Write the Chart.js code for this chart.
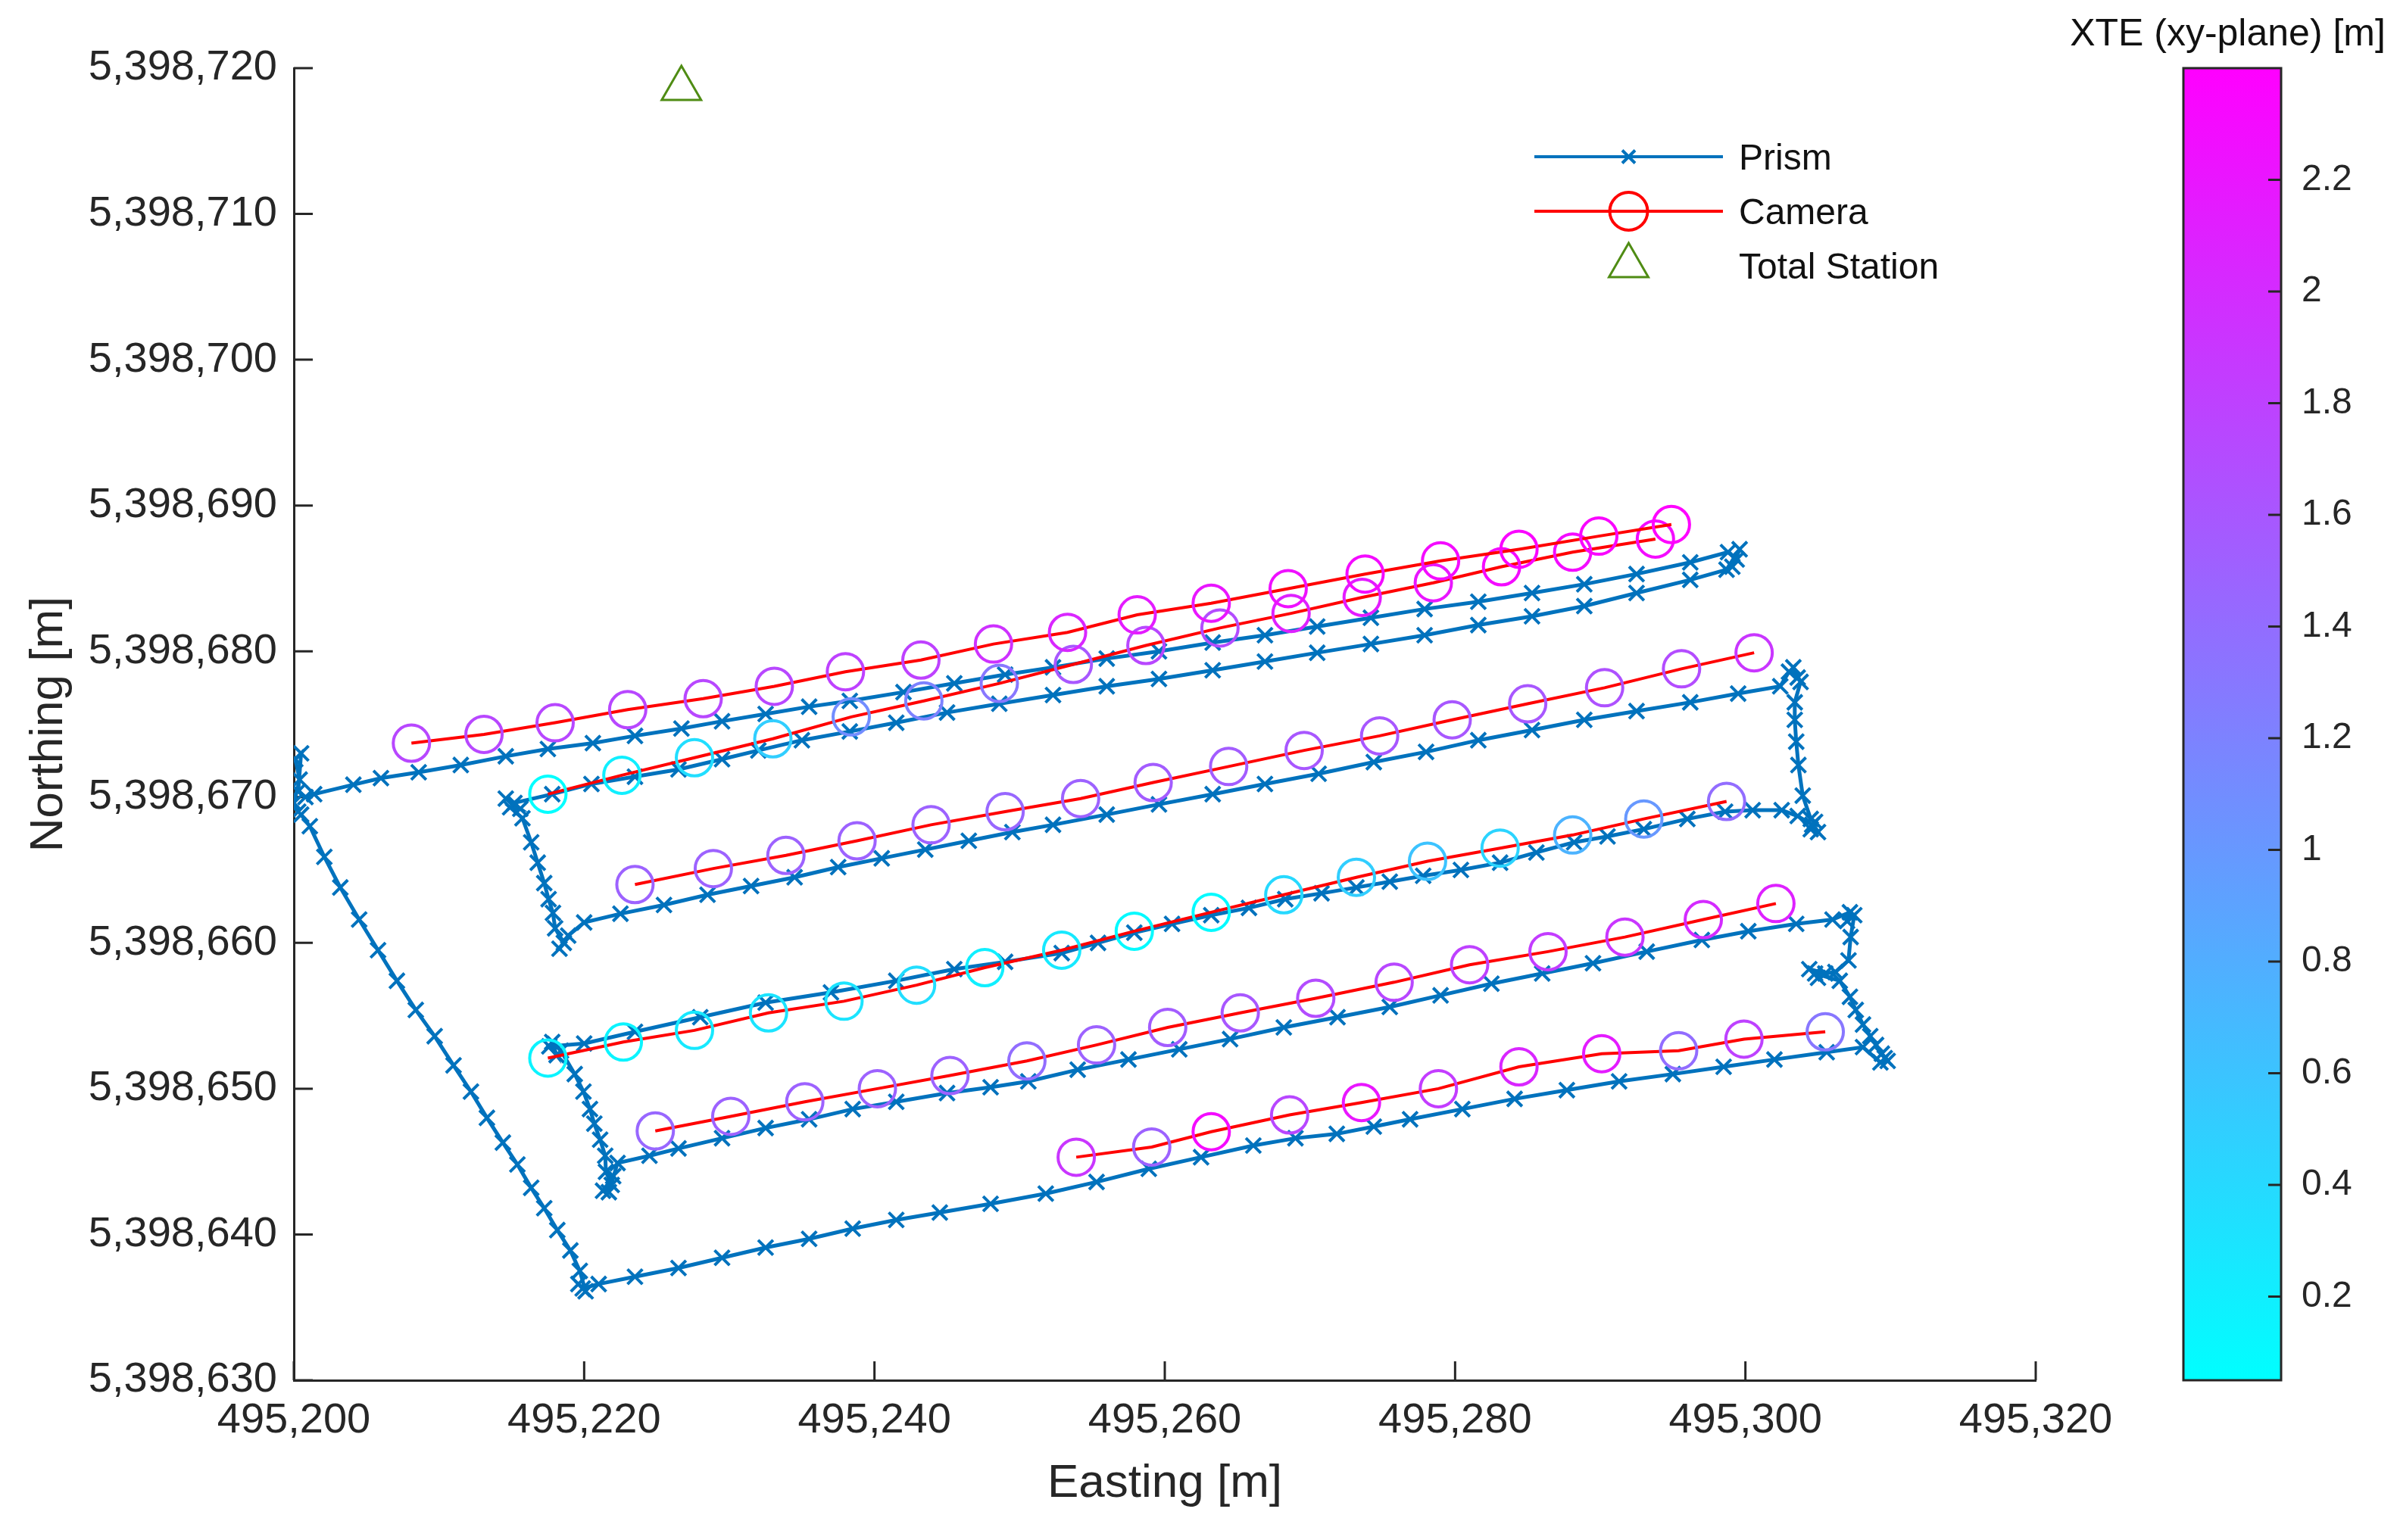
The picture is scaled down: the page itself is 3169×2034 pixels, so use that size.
<!DOCTYPE html>
<html>
<head>
<meta charset="utf-8">
<title>Prism and camera trajectories</title>
<script src="https://cdn.jsdelivr.net/npm/chart.js@4/dist/chart.umd.min.js"></script>
<style>
    html, body { margin: 0; padding: 0; background: #ffffff; overflow: hidden; }
    #wrap { width: 3169px; height: 2034px; }
</style>
</head>
<body>
<div id="wrap"><canvas id="trackChart" width="3169" height="2034"></canvas></div>
<script>
// axis ticks
const eastingTicks = [ 495200, 495220, 495240, 495260, 495280, 495300, 495320 ]
const northingTicks = [ 5398630, 5398640, 5398650, 5398660, 5398670, 5398680, 5398690, 5398700, 5398710, 5398720 ]
const xteTicks = [ 0.2, 0.4, 0.6, 0.8, 1, 1.2, 1.4, 1.6, 1.8, 2, 2.2 ]
const xteLimits = [ 0.05, 2.4 ]

// total station
const stationEasting = [ 495226.7 ]
const stationNorthing = [ 5398718.6 ]

// prism track (in driving order)
const prismEasting = [
    495200.3, 495200.0, 495200.4, 495200.1, 495200.5, 495200.3, 495200.8,
    495201.4, 495204.1, 495206.0, 495208.6, 495211.5, 495214.6, 495217.5, 495220.6, 495223.5, 495226.7,
    495229.5, 495232.5, 495235.5, 495238.3, 495242.0, 495245.5, 495249.0, 495252.3, 495256.0, 495259.6,
    495263.3, 495266.9, 495270.5, 495274.2, 495277.9, 495281.6, 495285.3, 495288.9, 495292.5, 495296.2,
    495298.8, 495299.4, 495299.1, 495299.6,
    495298.7, 495296.2, 495292.5, 495288.9, 495285.3, 495281.6, 495277.9, 495274.2, 495270.5, 495266.9,
    495263.3, 495259.6, 495256.0, 495252.3, 495248.6, 495245.0, 495241.5, 495238.3, 495235.0, 495232.0,
    495229.5, 495226.5, 495223.5, 495220.5, 495217.8,
    495215.2, 495214.6, 495215.6, 495214.9,
    495215.75, 495216.35, 495216.8, 495217.25, 495217.55, 495217.85,
    495218.0, 495218.6, 495218.3, 495218.9,
    495220.0, 495222.5, 495225.5, 495228.5, 495231.5, 495234.5, 495237.5, 495240.5, 495243.5, 495246.5,
    495249.5, 495252.3, 495256.0, 495259.6, 495263.3, 495266.9, 495270.6, 495274.4, 495278.0, 495281.6,
    495285.3, 495288.9, 495292.5, 495296.2, 495299.5, 495302.4,
    495303.0, 495303.6, 495303.3, 495303.8,
    495303.4, 495303.4, 495303.5, 495303.65, 495303.95, 495304.5,
    495304.8, 495304.5, 495305.0, 495304.6,
    495303.6, 495302.5, 495300.5, 495298.6, 495296.0, 495293.0, 495290.5, 495288.2, 495285.6, 495283.1,
    495280.4, 495277.8, 495275.5, 495273.2, 495270.8, 495268.3, 495265.8, 495263.2, 495260.5, 495257.9,
    495255.4, 495252.9, 495249.0, 495245.5, 495241.5, 495237.0, 495232.5, 495228.0, 495223.5, 495220.0,
    495217.6, 495218.1, 495217.8, 495218.4,
    495219.35, 495219.95, 495220.4, 495220.7, 495221.1, 495221.45,
    495221.5, 495221.9, 495221.3, 495222.0, 495221.7,
    495222.3, 495224.5, 495226.5, 495229.5, 495232.5, 495235.5, 495238.5, 495241.5, 495245.0, 495248.0,
    495250.6, 495254.0, 495257.5, 495261.0, 495264.5, 495268.2, 495271.9, 495275.5, 495279.0, 495282.5,
    495286.0, 495289.5, 495293.2, 495297.0, 495300.2, 495303.5, 495306.0,
    495307.2, 495307.0, 495307.5,
    495307.25, 495307.1, 495306.2, 495305.5, 495304.4, 495305.0, 495304.8, 495306.5, 495307.2, 495307.6,
    495308.1, 495308.6, 495309.0, 495309.6,
    495309.4, 495309.8, 495309.3,
    495308.1, 495305.6, 495302.0, 495298.5, 495295.0, 495291.3, 495287.7, 495284.1, 495280.5, 495276.9,
    495274.4, 495271.85, 495269.0, 495266.1, 495262.5, 495258.9, 495255.3, 495251.8, 495248.0, 495244.5,
    495241.5, 495238.5, 495235.5, 495232.5, 495229.5, 495226.5, 495223.5, 495221.0,
    495219.9, 495219.6, 495220.1,
    495219.7, 495219.05, 495218.15, 495217.25, 495216.35, 495215.4, 495214.4, 495213.3, 495212.2, 495211.0,
    495209.7, 495208.4, 495207.1, 495205.8, 495204.5, 495203.2, 495202.1, 495201.1, 495200.5
]
const prismNorthing = [
    5398669.0, 5398669.6, 5398671.2, 5398672.6, 5398673.0, 5398670.4, 5398670.0,
    5398670.2, 5398670.85, 5398671.3, 5398671.7, 5398672.2, 5398672.8, 5398673.3, 5398673.7, 5398674.2, 5398674.7,
    5398675.2, 5398675.7, 5398676.2, 5398676.6, 5398677.2, 5398677.8, 5398678.4, 5398678.9, 5398679.5, 5398680.0,
    5398680.6, 5398681.1, 5398681.7, 5398682.3, 5398682.9, 5398683.4, 5398684.0, 5398684.6, 5398685.3, 5398686.1,
    5398686.8, 5398686.3, 5398685.8, 5398687.0,
    5398685.6, 5398684.9, 5398684.0, 5398683.1, 5398682.4, 5398681.8, 5398681.1, 5398680.5, 5398679.9, 5398679.3,
    5398678.7, 5398678.1, 5398677.6, 5398677.0, 5398676.4, 5398675.8, 5398675.1, 5398674.5, 5398673.9, 5398673.2,
    5398672.6, 5398671.9, 5398671.4, 5398670.9, 5398670.2,
    5398669.6, 5398669.9, 5398669.2, 5398669.3,
    5398668.55, 5398666.9, 5398665.5, 5398664.1, 5398663.0, 5398662.05,
    5398661.0, 5398660.0, 5398659.6, 5398660.5,
    5398661.4, 5398662.0, 5398662.6, 5398663.3, 5398663.9, 5398664.5, 5398665.2, 5398665.8, 5398666.4, 5398667.0,
    5398667.6, 5398668.1, 5398668.8, 5398669.5, 5398670.2, 5398670.9, 5398671.6, 5398672.4, 5398673.1, 5398673.9,
    5398674.6, 5398675.3, 5398675.9, 5398676.5, 5398677.1, 5398677.6,
    5398678.6, 5398678.2, 5398678.9, 5398677.9,
    5398676.5, 5398675.3, 5398673.8, 5398672.2, 5398670.1, 5398668.5,
    5398668.3, 5398667.8, 5398667.6, 5398668.1,
    5398668.7, 5398669.1, 5398669.1, 5398669.0, 5398668.5, 5398667.8, 5398667.3, 5398666.9, 5398666.2, 5398665.5,
    5398665.0, 5398664.6, 5398664.2, 5398663.8, 5398663.4, 5398663.0, 5398662.4, 5398661.9, 5398661.3, 5398660.7,
    5398660.0, 5398659.3, 5398658.7, 5398658.2, 5398657.4, 5398656.6, 5398655.9, 5398654.9, 5398653.9, 5398653.1,
    5398652.9, 5398652.3, 5398653.2, 5398652.6,
    5398651.0, 5398649.8, 5398648.6, 5398647.6, 5398646.5, 5398645.4,
    5398644.3, 5398643.4, 5398643.0, 5398644.0, 5398642.9,
    5398644.9, 5398645.4, 5398645.9, 5398646.6, 5398647.3, 5398647.9, 5398648.6, 5398649.1, 5398649.7, 5398650.1,
    5398650.5, 5398651.3, 5398652.0, 5398652.7, 5398653.4, 5398654.2, 5398654.9, 5398655.6, 5398656.4, 5398657.2,
    5398657.9, 5398658.6, 5398659.4, 5398660.2, 5398660.8, 5398661.3, 5398661.6,
    5398662.1, 5398661.5, 5398661.9,
    5398660.4, 5398658.8, 5398658.0, 5398657.9, 5398658.2, 5398657.6, 5398657.9, 5398657.4, 5398656.3, 5398655.4,
    5398654.4, 5398653.6, 5398653.0, 5398652.1,
    5398652.4, 5398651.9, 5398651.8,
    5398652.85, 5398652.5, 5398652.0, 5398651.5, 5398651.0, 5398650.5, 5398649.9, 5398649.3, 5398648.6, 5398647.9,
    5398647.4, 5398646.9, 5398646.6, 5398646.1, 5398645.3, 5398644.5, 5398643.6, 5398642.8, 5398642.1, 5398641.5,
    5398641.0, 5398640.4, 5398639.7, 5398639.1, 5398638.4, 5398637.7, 5398637.1, 5398636.6,
    5398636.3, 5398636.6, 5398636.1,
    5398637.5, 5398638.9, 5398640.3, 5398641.8, 5398643.2, 5398644.8, 5398646.3, 5398648.0, 5398649.8, 5398651.6,
    5398653.6, 5398655.4, 5398657.4, 5398659.5, 5398661.6, 5398663.8, 5398665.9, 5398668.0, 5398668.8
]

// camera runs: easting, northing, XTE in the xy-plane
const camEastA = [ 495208.1, 495213.1, 495218.0, 495223.0, 495228.2, 495233.1, 495238.0, 495243.2, 495248.2, 495253.3, 495258.1, 495263.2, 495268.5, 495273.8, 495279.0, 495284.4, 495289.9, 495294.9 ]
const camNorthA = [ 5398673.7, 5398674.3, 5398675.1, 5398676.0, 5398676.75, 5398677.6, 5398678.6, 5398679.4, 5398680.5, 5398681.3, 5398682.5, 5398683.3, 5398684.3, 5398685.3, 5398686.2, 5398687.0, 5398687.9, 5398688.7 ]
const xteA = [ 1.75, 1.75, 1.75, 1.75, 1.75, 1.75, 1.8, 1.8, 1.95, 2.05, 2.15, 2.2, 2.25, 2.3, 2.3, 2.35, 2.35, 2.4 ]

const camEastB = [ 495217.5, 495222.6, 495227.6, 495233.0, 495238.4, 495243.4, 495248.6, 495253.7, 495258.7, 495263.8, 495268.7, 495273.6, 495278.5, 495283.2, 495288.1, 495293.8 ]
const camNorthB = [ 5398670.2, 5398671.5, 5398672.7, 5398674.0, 5398675.5, 5398676.6, 5398677.8, 5398679.1, 5398680.4, 5398681.6, 5398682.6, 5398683.7, 5398684.7, 5398685.8, 5398686.8, 5398687.7 ]
const xteB = [ 0.06, 0.2, 0.35, 0.5, 1.1, 1.2, 1.3, 1.6, 1.75, 1.7, 2.1, 2.15, 2.2, 2.3, 2.3, 2.3 ]

const camEastC = [ 495223.5, 495228.9, 495233.9, 495238.8, 495243.9, 495249.0, 495254.2, 495259.2, 495264.4, 495269.6, 495274.8, 495279.8, 495285.0, 495290.3, 495295.6, 495300.6 ]
const camNorthC = [ 5398664.0, 5398665.1, 5398666.0, 5398667.0, 5398668.1, 5398669.0, 5398669.9, 5398671.0, 5398672.1, 5398673.2, 5398674.2, 5398675.3, 5398676.4, 5398677.5, 5398678.8, 5398679.9 ]
const xteC = [ 1.5, 1.5, 1.5, 1.5, 1.5, 1.45, 1.5, 1.55, 1.55, 1.6, 1.6, 1.6, 1.6, 1.65, 1.7, 1.9 ]

const camEastD = [ 495217.5, 495222.7, 495227.6, 495232.7, 495237.9, 495242.9, 495247.6, 495252.9, 495257.9, 495263.2, 495268.2, 495273.2, 495278.1, 495283.1, 495288.1, 495293.0, 495298.7 ]
const camNorthD = [ 5398652.1, 5398653.2, 5398654.0, 5398655.2, 5398656.0, 5398657.1, 5398658.3, 5398659.5, 5398660.8, 5398662.1, 5398663.3, 5398664.5, 5398665.6, 5398666.5, 5398667.4, 5398668.5, 5398669.7 ]
const xteD = [ 0.15, 0.15, 0.25, 0.3, 0.3, 0.35, 0.2, 0.25, 0.1, 0.1, 0.4, 0.5, 0.6, 0.45, 0.75, 1.0, 1.4 ]

const camEastE = [ 495224.9, 495230.1, 495235.2, 495240.2, 495245.2, 495250.5, 495255.3, 495260.2, 495265.2, 495270.4, 495275.8, 495281.0, 495286.4, 495291.7, 495297.1, 495302.1 ]
const camNorthE = [ 5398647.1, 5398648.1, 5398649.1, 5398650.0, 5398650.9, 5398651.9, 5398653.0, 5398654.2, 5398655.2, 5398656.2, 5398657.3, 5398658.5, 5398659.4, 5398660.4, 5398661.6, 5398662.7 ]
const xteE = [ 1.45, 1.5, 1.5, 1.5, 1.5, 1.4, 1.5, 1.55, 1.6, 1.7, 1.75, 1.8, 1.85, 1.9, 2.0, 2.1 ]

const camEastF = [ 495253.9, 495259.1, 495263.2, 495268.6, 495273.55, 495278.85, 495284.4, 495290.1, 495295.4, 495299.9, 495305.5 ]
const camNorthF = [ 5398645.3, 5398646.0, 5398647.05, 5398648.2, 5398649.05, 5398650.0, 5398651.5, 5398652.4, 5398652.6, 5398653.4, 5398653.9 ]
const xteF = [ 1.9, 1.5, 2.3, 1.75, 2.2, 1.85, 2.05, 2.15, 1.4, 1.8, 1.3 ]

const cameraRuns = [
    [ camEastA, camNorthA, xteA ],
    [ camEastB, camNorthB, xteB ],
    [ camEastC, camNorthC, xteC ],
    [ camEastD, camNorthD, xteD ],
    [ camEastE, camNorthE, xteE ],
    [ camEastF, camNorthF, xteF ]
]

const fontFamily = '"Liberation Sans", Arial, Helvetica, sans-serif'
const axisColor = '#262626'
const prismColor = '#0072BD'
const cameraColor = '#FF0000'
const stationColor = '#4F8C14'

Chart.defaults.font.family = fontFamily
Chart.defaults.color = axisColor

function coolColor ( v ) {
    const t = Math.min( 1, Math.max( 0, ( v - xteLimits[ 0 ] ) / ( xteLimits[ 1 ] - xteLimits[ 0 ] ) ) )
    return `rgb(${ Math.round( 255 * t ) }, ${ Math.round( 255 * ( 1 - t ) ) }, 255)`
}

function toPoints ( xs, ys ) {
    return xs.map( ( x, i ) => ( { x: x, y: ys[ i ] } ) )
}

function drawMarker ( ctx, style, x, y, r ) {
    ctx.beginPath()
    if ( style === 'crossRot' ) {
        const d = r * Math.SQRT1_2
        ctx.moveTo( x - d, y - d )
        ctx.lineTo( x + d, y + d )
        ctx.moveTo( x + d, y - d )
        ctx.lineTo( x - d, y + d )
    } else if ( style === 'triangle' ) {
        ctx.moveTo( x, y - r )
        ctx.lineTo( x + r * 0.866, y + r / 2 )
        ctx.lineTo( x - r * 0.866, y + r / 2 )
        ctx.closePath()
    } else {
        ctx.arc( x, y, r, 0, Math.PI * 2 )
    }
    ctx.stroke()
}

const cameraDatasets = cameraRuns.map( ( run, k ) => {
    const xte = run[ 2 ]
    return {
        label: k === 0 ? 'Camera' : '',
        data: toPoints( run[ 0 ], run[ 1 ] ),
        showLine: true,
        borderColor: cameraColor,
        borderWidth: 4,
        pointStyle: 'circle',
        pointRadius: 24,
        pointBorderWidth: 4,
        pointBackgroundColor: 'rgba(0,0,0,0)',
        pointBorderColor: ctx => coolColor( xte[ ctx.dataIndex ] ),
        legendRadius: 25,
        legendLineWidth: 4,
        order: 1
    }
} )

const datasets = [
    {
        label: 'Prism',
        data: toPoints( prismEasting, prismNorthing ),
        showLine: true,
        borderColor: prismColor,
        borderWidth: 5,
        pointStyle: 'crossRot',
        pointRadius: 14,
        pointBorderWidth: 4,
        pointBorderColor: prismColor,
        pointBackgroundColor: prismColor,
        legendRadius: 12,
        legendLineWidth: 4,
        order: 2
    },
    ...cameraDatasets,
    {
        label: 'Total Station',
        data: toPoints( stationEasting, stationNorthing ),
        showLine: false,
        borderColor: stationColor,
        pointStyle: 'triangle',
        pointRadius: 30,
        pointBorderWidth: 3,
        pointBorderColor: stationColor,
        pointBackgroundColor: 'rgba(0,0,0,0)',
        legendRadius: 30,
        clip: false,
        order: 0
    }
]

// MATLAB style ticks pointing into the plot box
const inwardTicks = {
    id: 'inwardTicks',
    beforeDatasetsDraw ( chart ) {
        const { ctx, chartArea, scales } = chart
        ctx.save()
        ctx.strokeStyle = axisColor
        ctx.lineWidth = 3
        ctx.beginPath()
        eastingTicks.forEach( v => {
            const px = scales.x.getPixelForValue( v )
            ctx.moveTo( px, chartArea.bottom )
            ctx.lineTo( px, chartArea.bottom - 25 )
        } )
        northingTicks.forEach( v => {
            const py = scales.y.getPixelForValue( v )
            ctx.moveTo( chartArea.left, py )
            ctx.lineTo( chartArea.left + 25, py )
        } )
        ctx.stroke()
        ctx.restore()
    }
}

const lineLegend = {
    id: 'lineLegend',
    afterDraw ( chart ) {
        const ctx = chart.ctx
        const x1 = 2026, x2 = 2275, textX = 2296
        let y = 207
        ctx.save()
        ctx.font = `48px ${ fontFamily }`
        ctx.textAlign = 'left'
        ctx.textBaseline = 'middle'
        chart.data.datasets.filter( ds => ds.label ).forEach( ds => {
            const mid = ( x1 + x2 ) / 2
            ctx.strokeStyle = ds.borderColor
            if ( ds.showLine ) {
                ctx.lineWidth = ds.legendLineWidth
                ctx.beginPath()
                ctx.moveTo( x1, y )
                ctx.lineTo( x2, y )
                ctx.stroke()
            }
            ctx.lineWidth = ds.pointBorderWidth
            drawMarker( ctx, ds.pointStyle, mid, y, ds.legendRadius )
            ctx.fillStyle = '#111111'
            ctx.fillText( ds.label, textX, y + 4 )
            y += 72
        } )
        ctx.restore()
    }
}

const colorBar = {
    id: 'colorBar',
    afterDraw ( chart ) {
        const { ctx, chartArea } = chart
        const left = 2883, right = 3012
        const top = chartArea.top, bottom = chartArea.bottom
        const valueToY = v => bottom - ( v - xteLimits[ 0 ] ) / ( xteLimits[ 1 ] - xteLimits[ 0 ] ) * ( bottom - top )
        ctx.save()
        const grad = ctx.createLinearGradient( 0, bottom, 0, top )
        grad.addColorStop( 0, coolColor( xteLimits[ 0 ] ) )
        grad.addColorStop( 1, coolColor( xteLimits[ 1 ] ) )
        ctx.fillStyle = grad
        ctx.fillRect( left, top, right - left, bottom - top )
        ctx.strokeStyle = axisColor
        ctx.lineWidth = 3
        ctx.strokeRect( left, top, right - left, bottom - top )

        ctx.font = `48px ${ fontFamily }`
        ctx.fillStyle = axisColor
        ctx.textAlign = 'left'
        ctx.textBaseline = 'middle'
        ctx.beginPath()
        xteTicks.forEach( v => {
            const py = valueToY( v )
            ctx.moveTo( right, py )
            ctx.lineTo( right - 17, py )
            ctx.fillText( String( v ), right + 27, py )
        } )
        ctx.stroke()

        ctx.font = `50px ${ fontFamily }`
        ctx.textAlign = 'center'
        ctx.fillStyle = '#111111'
        ctx.fillText( 'XTE (xy-plane) [m]', ( left + right ) / 2 - 6, 46 )
        ctx.restore()
    }
}

const tickFont = { size: 56, family: fontFamily }
const titleFont = { size: 62, family: fontFamily }

new Chart( document.getElementById( 'trackChart' ), {
    type: 'scatter',
    data: { datasets: datasets },
    options: {
        responsive: false,
        devicePixelRatio: 1,
        animation: false,
        events: [],
        layout: { padding: { left: 0, top: 90, right: 481, bottom: 0 } },
        plugins: {
            legend: { display: false },
            tooltip: { enabled: false }
        },
        scales: {
            x: {
                type: 'linear',
                position: 'bottom',
                min: eastingTicks[ 0 ],
                max: eastingTicks[ eastingTicks.length - 1 ],
                afterBuildTicks: scale => { scale.ticks = eastingTicks.map( v => ( { value: v } ) ) },
                afterFit: scale => { scale.height = 211 },
                ticks: {
                    font: tickFont,
                    color: axisColor,
                    padding: 20,
                    maxRotation: 0,
                    autoSkip: false,
                    callback: v => v.toLocaleString( 'en-US' )
                },
                grid: { display: false, drawTicks: false },
                border: { display: true, color: axisColor, width: 3 },
                title: {
                    display: true,
                    text: 'Easting [m]',
                    font: titleFont,
                    color: axisColor,
                    padding: { top: 0, bottom: 37 }
                }
            },
            y: {
                type: 'linear',
                position: 'left',
                min: northingTicks[ 0 ],
                max: northingTicks[ northingTicks.length - 1 ],
                afterBuildTicks: scale => { scale.ticks = northingTicks.map( v => ( { value: v } ) ) },
                afterFit: scale => { scale.width = 388 },
                ticks: {
                    font: tickFont,
                    color: axisColor,
                    padding: 22,
                    autoSkip: false,
                    callback: v => v.toLocaleString( 'en-US' )
                },
                grid: { display: false, drawTicks: false },
                border: { display: true, color: axisColor, width: 3 },
                title: {
                    display: true,
                    text: 'Northing [m]',
                    font: titleFont,
                    color: axisColor,
                    padding: { top: 28, bottom: 0 }
                }
            }
        }
    },
    plugins: [ inwardTicks, lineLegend, colorBar ]
} )
</script>
</body>
</html>
